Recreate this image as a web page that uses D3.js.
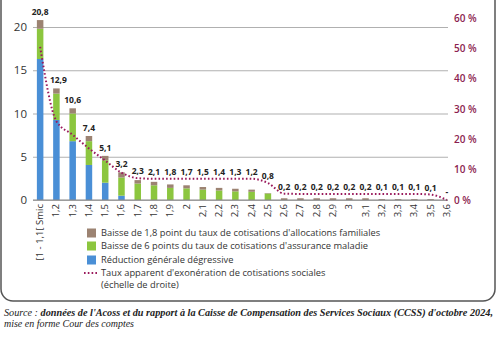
<!DOCTYPE html>
<html><head><meta charset="utf-8">
<script src="https://cdn.jsdelivr.net/npm/d3@7"></script>
<style>body{margin:0;background:#fff}svg{display:block}</style>
</head><body>
<svg id="c" width="500" height="340"></svg>
<script>
const categories = ["[1 - 1,1[ Smic","1,2","1,3","1,4","1,5","1,6","1,7","1,8","1,9","2","2,1","2,2","2,3","2,4","2,5","2,6","2,7","2,8","2,9","3","3,1","3,2","3,3","3,4","3,5","3,6"];
const reductionGenerale = [16.3,9.25,6.8,4.05,2.0,0.5,0,0,0,0,0,0,0,0,0,0,0,0,0,0,0,0,0,0,0,0];
const baisseMaladie     = [3.5,3.05,3.2,2.75,2.6,2.1,1.9,1.7,1.4,1.35,1.2,1.1,1.0,0.95,0.75,0,0,0,0,0,0,0,0,0,0,0];
const baisseFamille     = [1.0,0.6,0.6,0.6,0.5,0.6,0.4,0.4,0.4,0.35,0.3,0.3,0.3,0.25,0.05,0.2,0.2,0.2,0.2,0.2,0.2,0.1,0.1,0.1,0.1,0];
const totalLabels = ["20,8","12,9","10,6","7,4","5,1","3,2","2,3","2,1","1,8","1,7","1,5","1,4","1,3","1,2","0,8","0,2","0,2","0,2","0,2","0,2","0,2","0,1","0,1","0,1","0,1","-"];
const tauxExoneration = [50.5,26,21.5,17,13,9,7.2,7,7,7,7,7,7,7,5.6,2.1,2,2,2,2,2,2,2,2,1.8,0];
const leftTicks = [0,5,10,15,20];
const rightTicks = [0,10,20,30,40,50,60];
const seriesNames = ["Baisse de 1,8 point du taux de cotisations d'allocations familiales","Baisse de 6 points du taux de cotisations d'assurance maladie","Réduction générale dégressive"];
const lineName = ["Taux apparent d'exonération de cotisations sociales","(échelle de droite)"];

const colors = {rg:"#4a8fd6", mal:"#8cc63f", fam:"#9c8372", line:"#9a1a5c", right:"#8b1d4f"};
const svg = d3.select("#c");
const font = "'Open Sans', sans-serif";

// border
svg.append("rect").attr("x",1).attr("y",-20).attr("width",494).attr("height",321).attr("rx",12)
  .attr("fill","none").attr("stroke","#555").attr("stroke-width",1.5);

const x = d3.scaleBand().domain(categories).range([32,455]).paddingInner(0.6).paddingOuter(0.3);
const y = d3.scaleLinear().domain([0,20]).range([200,27]);
const yR = d3.scaleLinear().domain([0,60]).range([200,18]);

// gridlines + left axis
const gl = d3.axisLeft(y).tickValues(leftTicks).tickSize(-415).tickPadding(6).tickFormat(d=>d);
const gAx = svg.append("g").attr("transform","translate(33,0)").call(gl);
gAx.select(".domain").remove();
gAx.selectAll(".tick line").attr("stroke","#b0b0b0").attr("stroke-width",1.2);
gAx.selectAll(".tick text").attr("font-family",font).attr("font-size",11.5).attr("fill","#333");

// right axis
const ar = d3.axisRight(yR).tickValues(rightTicks).tickSize(0).tickPadding(6).tickFormat(d=>d+" %");
const gR = svg.append("g").attr("transform","translate(448,0)").call(ar);
gR.select(".domain").remove();
gR.selectAll(".tick text").attr("font-family",font).attr("font-size",10).attr("font-weight",600).attr("fill",colors.right);

// stacked bars
const rows = categories.map((c,i)=>({cat:c, rg:reductionGenerale[i], mal:baisseMaladie[i], fam:baisseFamille[i]}));
const stack = d3.stack().keys(["rg","mal","fam"])(rows);
svg.append("g").selectAll("g").data(stack).join("g").attr("fill",d=>colors[d.key])
  .selectAll("rect").data(d=>d).join("rect")
  .attr("x",d=>x(d.data.cat)).attr("width",x.bandwidth())
  .attr("y",d=>y(d[1])).attr("height",d=>Math.max(0,y(d[0])-y(d[1])));

// x axis
const ax = d3.axisBottom(x).tickSize(0).tickPadding(0);
const gX = svg.append("g").attr("transform","translate(0,200)").call(ax);
gX.select(".domain").attr("d","M33,0H448").attr("stroke","#888").attr("stroke-width",1.2);
gX.selectAll(".tick text").attr("font-family",font).attr("font-size",9.5).attr("fill","#333")
  .attr("text-anchor","end").attr("transform","translate(3,4) rotate(-90)").attr("dy","0").attr("y",0).attr("x",0);

// line
const cx = c=>x(c)+x.bandwidth()/2;
const line = d3.line().x((d,i)=>cx(categories[i])).y(d=>yR(d)).curve(d3.curveMonotoneX);
svg.append("path").datum(tauxExoneration).attr("d",line).attr("fill","none")
  .attr("stroke",colors.line).attr("stroke-width",2).attr("stroke-dasharray","1.6,2.2");

// value labels
svg.append("g").selectAll("text").data(totalLabels).join("text")
  .attr("x",(d,i)=>cx(categories[i])+ (i===1?2:0))
  .attr("y",(d,i)=>{const tot=reductionGenerale[i]+baisseMaladie[i]+baisseFamille[i];
      return Math.min(y(tot)-5, yR(tauxExoneration[i])-4);})
  .attr("text-anchor","middle").attr("font-family",font).attr("font-size",8.5).attr("font-weight",700).attr("fill","#222")
  .text(d=>d);

// legend
const lg = svg.append("g").attr("font-family",font).attr("font-size",9.3).attr("fill","#333");
const legColors = [colors.fam, colors.mal, colors.rg];
const legY = [233,246,260];
seriesNames.forEach((n,i)=>{
  lg.append("rect").attr("x",87).attr("y",legY[i]-4.5).attr("width",9).attr("height",9).attr("fill",legColors[i]);
  lg.append("text").attr("x",101).attr("y",legY[i]+3.3).text(n);
});
lg.append("line").attr("x1",84).attr("x2",97).attr("y1",273).attr("y2",273)
  .attr("stroke",colors.line).attr("stroke-width",2).attr("stroke-dasharray","1.6,2.2");
lg.append("text").attr("x",101).attr("y",276.3).text(lineName[0]);
lg.append("text").attr("x",101).attr("y",288).text(lineName[1]);

// source
const src = svg.append("g").attr("font-family","'Liberation Serif', serif").attr("font-style","italic").attr("font-size",9.5).attr("fill","#222");
const t1 = src.append("text").attr("x",4).attr("y",316).attr("textLength",489).attr("lengthAdjust","spacingAndGlyphs");
t1.append("tspan").text("Source : ");
t1.append("tspan").attr("font-weight",700).text("données de l'Acoss et du rapport à la Caisse de Compensation des Services Sociaux (CCSS) d'octobre 2024,");
src.append("text").attr("x",4).attr("y",327).attr("textLength",130).attr("lengthAdjust","spacingAndGlyphs").text("mise en forme Cour des comptes");
</script>
</body></html>
